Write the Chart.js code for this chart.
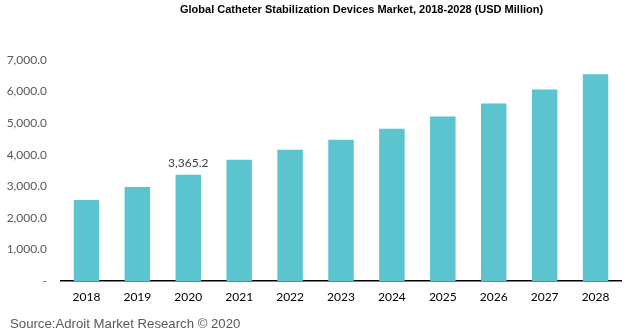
<!DOCTYPE html>
<html>
<head>
<meta charset="utf-8">
<script src="https://cdn.jsdelivr.net/npm/chart.js@4"></script>
<style>
    body { margin: 0; background: #fff; }
    #wrap { position: relative; width: 626px; height: 334px; }
    #title { position: absolute; top: 3px; left: 180px; width: 362px; text-align: center;
             font: bold 11px "Liberation Sans", Arial, sans-serif; color: #000; white-space: nowrap; }
    #source { position: absolute; left: 10px; top: 316px;
              font: 13.2px "Liberation Sans", Arial, sans-serif; color: #595959; white-space: nowrap; }
</style>
</head>
<body>
<div id="wrap">
    <canvas id="chart" width="626" height="334"></canvas>
    <div id="title">Global Catheter Stabilization Devices Market, 2018-2028 (USD Million)</div>
    <div id="source">Source:Adroit Market Research © 2020</div>
</div>
<script>
const years = ['2018', '2019', '2020', '2021', '2022', '2023', '2024', '2025', '2026', '2027', '2028'];
const marketValues = [2568, 2981, 3365.2, 3840, 4158, 4477, 4826, 5208, 5622, 6067, 6545];
const yTicks = [0, 1000, 2000, 3000, 4000, 5000, 6000, 7000];
const yTickLabels = ['-', '1,000.0', '2,000.0', '3,000.0', '4,000.0', '5,000.0', '6,000.0', '7,000.0'];
const labelledYear = '2020';

const barLabelPlugin = {
    id: 'barLabel',
    afterDatasetsDraw(chart) {
        const ctx = chart.ctx;
        const meta = chart.getDatasetMeta(0);
        const i = years.indexOf(labelledYear);
        const bar = meta.data[i];
        ctx.save();
        ctx.font = '12px Lato, "Open Sans", sans-serif';
        ctx.fillStyle = '#404040';
        ctx.textAlign = 'center';
        ctx.textBaseline = 'bottom';
        ctx.fillText(marketValues[i].toLocaleString('en-US', { minimumFractionDigits: 1 }), bar.x, bar.y - 6);
        ctx.restore();
    }
};

const ctx = document.getElementById('chart').getContext('2d');
const marketChart = new Chart(ctx, {
    type: 'bar',
    data: {
        labels: years,
        datasets: [{
            data: marketValues,
            backgroundColor: '#5bc4cf',
            barPercentage: 0.5,
            categoryPercentage: 1
        }]
    },
    options: {
        responsive: false,
        animation: false,
        layout: { padding: { top: 60, right: 5, left: 0, bottom: 0 } },
        plugins: {
            legend: { display: false },
            tooltip: { enabled: false }
        },
        scales: {
            x: {
                grid: { display: false, drawTicks: false },
                border: { display: true, color: '#000', width: 1.5 },
                ticks: {
                    color: '#000',
                    padding: 9,
                    font: { size: 12, family: 'Lato, "Open Sans", sans-serif' }
                },
                afterFit: (scale) => { scale.height = 53; }
            },
            y: {
                min: 0,
                max: 7000,
                grid: { display: false, drawTicks: false },
                border: { display: false },
                afterBuildTicks: (scale) => { scale.ticks = yTicks.map(v => ({ value: v })); },
                ticks: {
                    color: '#595959',
                    padding: 14,
                    font: { size: 12, family: 'Lato, "Open Sans", sans-serif' },
                    callback: (value) => yTickLabels[yTicks.indexOf(value)]
                },
                afterFit: (scale) => { scale.width = 61; }
            }
        }
    },
    plugins: [barLabelPlugin]
});
</script>
</body>
</html>
